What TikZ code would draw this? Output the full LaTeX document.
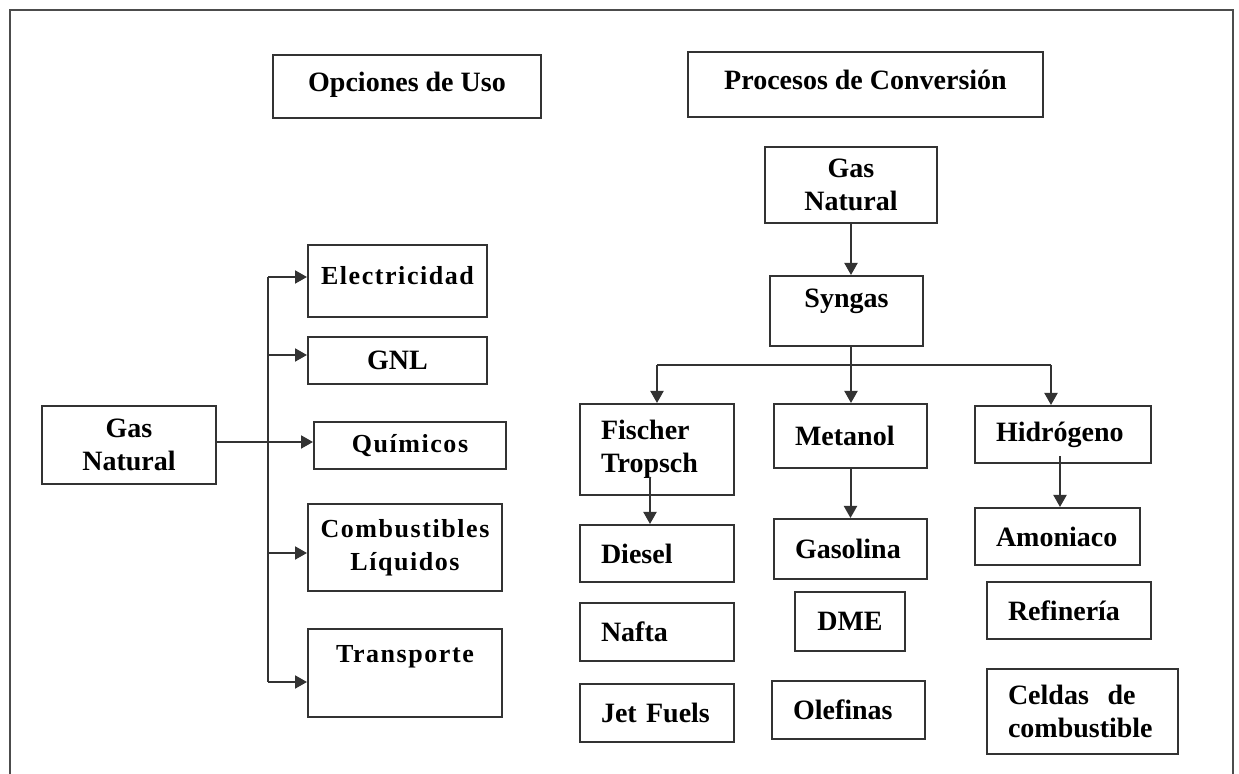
\documentclass[tikz,border=0pt]{standalone}
\usepackage{fontspec}
\setmainfont{Liberation Serif}
\newfontfamily\espaciada[LetterSpace=6]{Liberation Serif}
\usepackage{tikz}
\usetikzlibrary{arrows.meta, positioning}
\definecolor{trazo}{HTML}{333333}
\tikzset{
    caja/.style={draw=trazo, line width=1pt, align=center, inner sep=2pt,
                 font=\fontsize{14}{16.5}\selectfont\bfseries},
    cajal/.style={caja, align=left, inner xsep=10.5pt, text width=#1},
    esp/.style={font=\fontsize{13}{16.5}\selectfont\espaciada\bfseries},
    arr/.style={-{Triangle[length=6pt, width=6.5pt]}, line width=1pt, trazo},
    lin/.style={line width=1pt, trazo},
    marco/.style={line width=1.2pt, black!70},
}

\begin{document}
\begin{tikzpicture}[x=0.5pt, y=-0.5pt]
    \useasboundingbox (0,0) rectangle (1239,774);
    \draw[marco] (10,774) -- (10,10) -- (1233,10) -- (1233,774);

    % titulos
    \node[caja, minimum width=134pt, minimum height=31.5pt, text depth=5pt] (uso) at (407,86.5) {Opciones de Uso};
    \node[caja, minimum width=177.5pt, minimum height=32.5pt, text depth=5pt] (conv) at (865.5,84.5) {Procesos de Conversión};

    % opciones de uso
    \node[caja, minimum width=87pt, minimum height=39pt] (gnA) at (129,445) {Gas\\Natural};
    \node[caja, esp, minimum width=89.5pt, minimum height=36pt, text depth=5.5pt] (elec) at (397.5,281) {Electricidad};
    \node[caja, minimum width=89.5pt, minimum height=23.5pt] (gnl) at (397.5,360.5) {GNL};
    \node[caja, esp, minimum width=96pt, minimum height=23.5pt] (quim) at (410,445.5) {Químicos};
    \node[caja, esp, minimum width=97pt, minimum height=43.5pt] (comb) at (405,547.5) {Combustibles\\Líquidos};
    \node[caja, esp, minimum width=97pt, minimum height=44pt, text depth=19pt] (trans) at (405,673) {Transporte};

    \coordinate (bus) at (268,277);
    \draw[lin] ([yshift=2pt]elec.west -| bus) -- ([yshift=-4.5pt]trans.west -| bus);
    \draw[arr] ([yshift=1.75pt]quim.west -| gnA.east) -- ([yshift=1.75pt]quim.west);
    \foreach \n/\dy in {elec/2pt, gnl/2.75pt, comb/-2.75pt, trans/-4.5pt}
        \draw[arr] ([yshift=\dy]\n.west -| bus) -- ([yshift=\dy]\n.west);

    % procesos de conversion
    \node[caja, minimum width=86pt, minimum height=38pt] (gnB) at (851,185) {Gas\\Natural};
    \node[caja, minimum width=76.5pt, minimum height=35pt, text depth=12.5pt] (syn) at (846.5,311) {Syngas};

    \node[cajal=56pt, minimum height=45.5pt] (ft) at (657,449.5) {Fischer\\Tropsch};
    \node[cajal=55.5pt, minimum height=32pt] (met) at (850.5,436) {Metanol};
    \node[cajal=67pt, minimum height=28.5pt] (hid) at (1063,434.5) {Hidrógeno};

    \node[cajal=56pt, minimum height=28.5pt] (die) at (657,553.5) {Diesel};
    \node[cajal=56pt, minimum height=29pt] (naf) at (657,632) {Nafta};
    \node[cajal=56pt, minimum height=29pt] (jet) at (657,713) {Jet Fuels};

    \node[cajal=55.5pt, minimum height=30pt] (gas) at (850.5,549) {Gasolina};
    \node[caja, minimum width=55pt, minimum height=29.5pt] (dme) at (850,621.5) {DME};
    \node[cajal=55.5pt, minimum height=29pt] (ole) at (848.5,710) {Olefinas};

    \node[cajal=61.5pt, minimum height=28.5pt] (amo) at (1057.5,536.5) {Amoniaco};
    \node[cajal=61pt, minimum height=28.5pt] (ref) at (1069,610.5) {Refinería};
    \node[cajal=74.5pt, minimum height=42.5pt] (cel) at (1082.5,711.5) {Celdas~~de\\combustible};

    \draw[arr] (gnB.south) -- (gnB.south |- syn.north);
    \coordinate (split) at (851,365);
    \draw[lin] (gnB.south |- syn.south) -- (split);
    \draw[lin] (ft.north |- split) -- ([xshift=-6pt]hid.north |- split);
    \draw[arr] (ft.north |- split) -- (ft.north);
    \draw[arr] (split) -- (split |- met.north);
    \draw[arr] ([xshift=-6pt]hid.north |- split) -- ([xshift=-6pt]hid.north);
    \draw[arr] ([xshift=-3.5pt, yshift=-13.75pt]ft.center) -- ([xshift=-3.5pt]die.north);
    \draw[arr] (met.south) -- (gas.north);
    \draw[arr] ([xshift=-1.5pt, yshift=-11pt]hid.center) -- ([xshift=1.25pt]amo.north);
\end{tikzpicture}
\end{document}
